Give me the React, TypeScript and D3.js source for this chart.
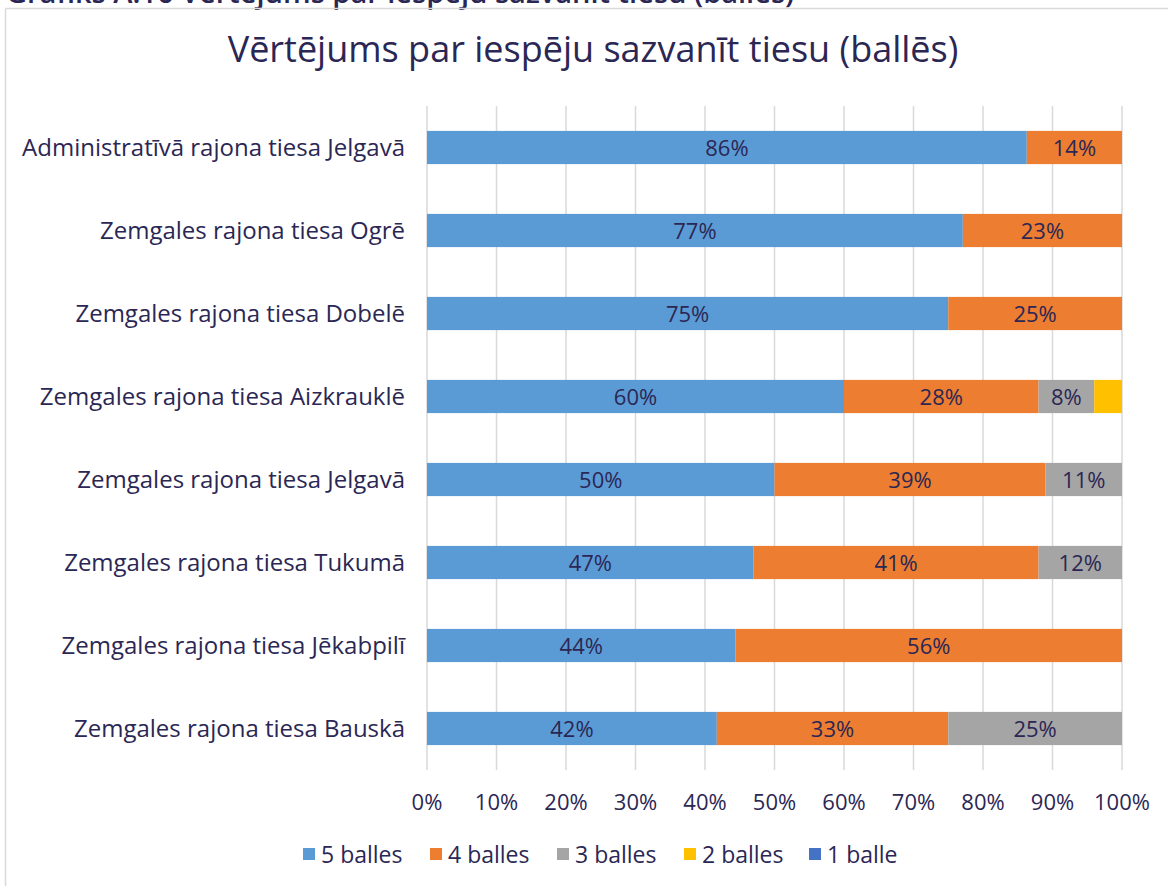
import React from "react";
import * as d3 from "d3";

const categories = [
  "Administratīvā rajona tiesa Jelgavā",
  "Zemgales rajona tiesa Ogrē",
  "Zemgales rajona tiesa Dobelē",
  "Zemgales rajona tiesa Aizkrauklē",
  "Zemgales rajona tiesa Jelgavā",
  "Zemgales rajona tiesa Tukumā",
  "Zemgales rajona tiesa Jēkabpilī",
  "Zemgales rajona tiesa Bauskā",
];
const seriesNames = ["5 balles", "4 balles", "3 balles", "2 balles", "1 balle"];
const balles5 = [86.3, 77.1, 75, 60, 50, 47, 44.4, 41.7];
const balles4 = [13.7, 22.9, 25, 28, 39, 41, 55.6, 33.3];
const balles3 = [0, 0, 0, 8, 11, 12, 0, 25];
const balles2 = [0, 0, 0, 4, 0, 0, 0, 0];
const balles1 = [0, 0, 0, 0, 0, 0, 0, 0];
const xTicks = [0, 10, 20, 30, 40, 50, 60, 70, 80, 90, 100];
const colors = ["#5B9BD5", "#ED7D31", "#A5A5A5", "#FFC000", "#4472C4"];

const W = 1168;
const H = 886;
const TEXT = "#2B2754";
const FONT = "'Open Sans', Lato, sans-serif";

export default function App() {
  const x = d3.scaleLinear().domain([0, 100]).range([427, 1122]);
  const y = d3.scaleBand().domain(categories).range([106, 770]).paddingInner(0.6).paddingOuter(0.3);
  const rows = categories.map((c, i) => ({
    cat: c,
    v: [balles5[i], balles4[i], balles3[i], balles2[i], balles1[i]],
  }));
  const legendX = [303, 430, 557, 684, 809];
  return (
    <svg width={W} height={H} style={{ position: "absolute", left: 0, top: 0, background: "#fff" }}>
      <text x={6} y={3} fontFamily={FONT} fontWeight={600} fontSize={29} fill={TEXT}>
        Grafiks A.16 Vērtējums par iespēju sazvanīt tiesu (balles)
      </text>
      <line x1={5.5} y1={8.5} x2={W} y2={8.5} stroke="#D9D9D9" strokeWidth={1.5} />
      <line x1={5.5} y1={8.5} x2={5.5} y2={H} stroke="#D9D9D9" strokeWidth={1.5} />
      <text x={593} y={62} textAnchor="middle" fontFamily={FONT} fontSize={36} fill={TEXT}>
        Vērtējums par iespēju sazvanīt tiesu (ballēs)
      </text>
      {xTicks.map((t) => (
        <g key={t}>
          <line x1={x(t)} x2={x(t)} y1={106} y2={770} stroke="#D9D9D9" strokeWidth={1.5} />
          <text x={x(t)} y={810} textAnchor="middle" fontFamily={FONT} fontSize={22} fill={TEXT}>
            {t}%
          </text>
        </g>
      ))}
      {rows.map((r) => {
        let acc = 0;
        const yy = y(r.cat)!;
        const bh = y.bandwidth();
        return (
          <g key={r.cat}>
            <text x={405} y={yy + bh / 2 + 8} textAnchor="end" fontFamily={FONT} fontSize={24} fill={TEXT}>
              {r.cat}
            </text>
            {r.v.map((v, k) => {
              const x0 = x(acc);
              acc += v;
              const x1 = x(acc);
              if (v <= 0) return null;
              return (
                <g key={k}>
                  <rect x={x0} y={yy} width={x1 - x0} height={bh} fill={colors[k]} />
                  {v >= 5 && (
                    <text x={(x0 + x1) / 2} y={yy + bh / 2 + 8} textAnchor="middle" fontFamily={FONT} fontSize={22} fill={TEXT}>
                      {Math.round(v)}%
                    </text>
                  )}
                </g>
              );
            })}
          </g>
        );
      })}
      {seriesNames.map((s, i) => (
        <g key={s}>
          <rect x={legendX[i]} y={848} width={12} height={12} fill={colors[i]} />
          <text x={legendX[i] + 18} y={863} fontFamily={FONT} fontSize={23} fill={TEXT}>
            {s}
          </text>
        </g>
      ))}
    </svg>
  );
}
